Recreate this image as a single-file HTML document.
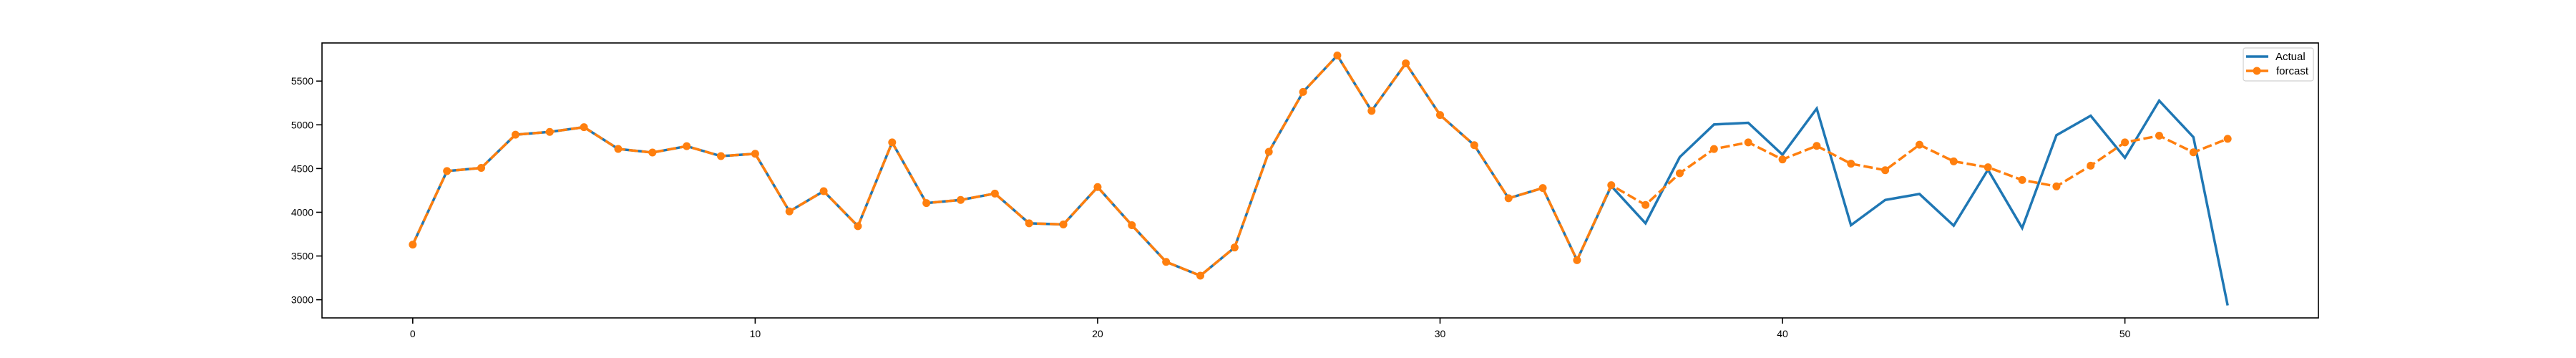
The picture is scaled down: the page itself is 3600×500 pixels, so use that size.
<!DOCTYPE html>
<html><head><meta charset="utf-8"><style>
html,body{margin:0;padding:0;background:#fff;}
svg{display:block;font-family:"Liberation Sans","DejaVu Sans",sans-serif;}
</style></head><body>
<svg id="chart" width="3600" height="500" viewBox="0 0 3600 500" xmlns="http://www.w3.org/2000/svg">
<rect x="0" y="0" width="3600" height="500" fill="#fff"/>
<g id="grid"></g>
<g id="series"></g>
<rect x="450" y="60" width="2790" height="384" fill="none" stroke="#000" stroke-width="1.6"/>
<g id="xaxis"></g>
<g id="yaxis"></g>
<g>
<rect x="3135" y="67" width="98" height="46" rx="3" fill="#fff" stroke="#ccc" stroke-width="1.2" opacity="0.9"/>
<line x1="3139" y1="79" x2="3170" y2="79" stroke="#1f77b4" stroke-width="3.5"/>
<text x="3180" y="84" font-size="15" fill="#000">Actual</text>
<line x1="3139" y1="99" x2="3170" y2="99" stroke="#ff7f0e" stroke-width="3.5" stroke-dasharray="13,5"/>
<circle cx="3154" cy="99" r="5.5" fill="#ff7f0e"/>
<text x="3181" y="104" font-size="15" fill="#000">forcast</text>
</g>
</svg>
<script>
const actual = [3630,4471,4507,4887,4919,4973,4724,4683,4756,4642,4669,4010,4241,3841,4799,4105,4141,4214,3874,3861,4288,3852,3433,3275,3597,4691,5376,5793,5159,5703,5112,4767,4160,4277,3452,4300,3874,4631,5004,5023,4658,5186,3852,4141,4209,3847,4487,3820,4881,5104,4623,5276,4859,2935];
const forecast = [3630,4471,4507,4887,4919,4973,4724,4683,4756,4642,4669,4010,4241,3841,4799,4105,4141,4214,3874,3861,4288,3852,3433,3275,3597,4691,5376,5793,5159,5703,5112,4767,4160,4277,3452,4310,4084,4446,4723,4799,4604,4759,4555,4481,4772,4582,4514,4369,4296,4533,4799,4876,4685,4840];
const xTicks = [0,10,20,30,40,50];
const yTicks = [3000,3500,4000,4500,5000,5500];

const NS = "http://www.w3.org/2000/svg";
const L=450,R=3240,T=60,B=444;
const n = actual.length;
const xMin=-(n-1)*0.05, xMax=(n-1)*1.05;
const all = actual.concat(forecast);
const dMin=Math.min(...all), dMax=Math.max(...all), pad=(dMax-dMin)*0.05;
const yMin=dMin-pad, yMax=dMax+pad;
const sx = v => L + (v-xMin)/(xMax-xMin)*(R-L);
const sy = v => B - (v-yMin)/(yMax-yMin)*(B-T);
function mk(tag, attrs, parent){const e=document.createElementNS(NS,tag);for(const k in attrs)e.setAttribute(k,attrs[k]);parent.appendChild(e);return e;}

const xa=document.getElementById('xaxis');
xTicks.forEach(t=>{
  const x=sx(t);
  const tk=mk('line',{x1:x,y1:B,x2:x,y2:B+8,stroke:'#000','stroke-width':1.6},xa);
  
  
  const tx=mk('text',{x:x,y:B+27,'font-size':14,'text-anchor':'middle',fill:'#000'},xa);
  tx.textContent=t;
  
  
});
const ya=document.getElementById('yaxis');
yTicks.forEach(t=>{
  const y=sy(t);
  const tk=mk('line',{x1:L-8,y1:y,x2:L,y2:y,stroke:'#000','stroke-width':1.6},ya);
  
  
  const tx=mk('text',{x:L-12,y:y+5,'font-size':14,'text-anchor':'end',fill:'#000'},ya);
  tx.textContent=t;
  
  
});

const sg=document.getElementById('series');
const ptsA=actual.map((v,i)=>sx(i)+','+sy(v)).join(' ');
const pa=mk('polyline',{points:ptsA,fill:'none',stroke:'#1f77b4','stroke-width':3.5,'stroke-linejoin':'miter'},sg);


const ptsF=forecast.map((v,i)=>sx(i)+','+sy(v)).join(' ');
const pf=mk('polyline',{points:ptsF,fill:'none',stroke:'#ff7f0e','stroke-width':3.5,'stroke-dasharray':'13,5'},sg);


forecast.forEach((v,i)=>{
  const c=mk('circle',{cx:sx(i),cy:sy(v),r:5.5,fill:'#ff7f0e'},sg);
  
  
});
</script>
</body></html>
